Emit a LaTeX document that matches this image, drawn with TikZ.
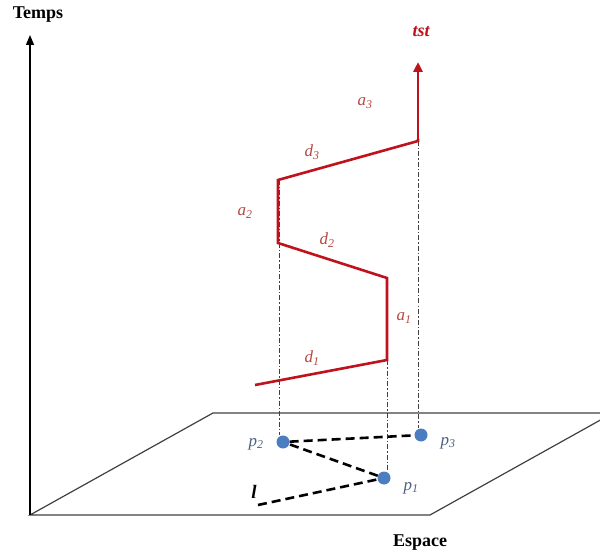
\documentclass[tikz,border=0pt]{standalone}
\usepackage{fontspec}
\setmainfont{Liberation Serif}
\usetikzlibrary{arrows.meta}
\definecolor{tred}{HTML}{C0121C}
\definecolor{labred}{HTML}{B5473F}
\definecolor{dotblue}{HTML}{4A7EC0}
\definecolor{plabgray}{HTML}{4D5F80}
\tikzset{
  axis/.style={draw=black, line width=1.2pt, -{Triangle[length=10pt,width=8pt]}},
  plane/.style={draw=black!75, line width=1.2pt},
  traj/.style={draw=tred, line width=2.6pt, line join=miter},
  trajarrow/.style={traj, -{Triangle[length=10pt,width=9pt]}},
  proj/.style={draw=black!75, line width=0.9pt, dash pattern=on 5pt off 2pt on 1.5pt off 2pt},
  link/.style={draw=black, line width=2.6pt, dash pattern=on 9pt off 5pt},
  pdot/.style={circle, fill=dotblue, inner sep=0pt, minimum size=13pt},
  lab/.style={text=labred, font=\itshape\fontsize{17}{17}\selectfont, inner sep=1pt},
  plab/.style={text=plabgray, font=\itshape\fontsize{17}{17}\selectfont, inner sep=1pt},
  title/.style={font=\bfseries\fontsize{18}{18}\selectfont, inner sep=1pt}
}
\begin{document}
\begin{tikzpicture}[x=1pt,y=-1pt]
\useasboundingbox (0,0) rectangle (600,556);
\clip (0,0) rectangle (600,556);
% plane
\coordinate (o) at (30,515);
\draw[plane] (o) -- (430,515) -- (613,413) -- (213,413) -- cycle;
% time axis
\coordinate (ttop) at (30,35);
\draw[axis] (o) -- (ttop);
\node[title] (temps) at (38,15) {Temps};
\node[title] (espace) at (420,543) {Espace};
% points on plane
\node[pdot] (p2) at (283,442) {};
\node[pdot] (p3) at (421,435) {};
\node[pdot] (p1) at (384,478) {};
\coordinate (l) at (258,505);
\node[plab] (p2l) at (256,444) {p\textsubscript{2}};
\node[plab] (p3l) at (448,443) {p\textsubscript{3}};
\node[plab] (p1l) at (411,488) {p\textsubscript{1}};
\node[font=\bfseries\itshape\fontsize{19}{19}\selectfont, inner sep=1pt] (ll) at (254,492) {l};
% trajectory vertices
\coordinate (r0) at (255,385);
\coordinate (r1) at (387,360);
\coordinate (r2) at (387,278);
\coordinate (r3) at (278,243);
\coordinate (r4) at (278,180);
\coordinate (r5) at (418,141);
\coordinate (r6) at (418,62);
% projections
\draw[proj] ([xshift=1pt]r4) -- ([xshift=1pt]r4 |- p2.north);
\draw[proj] (r1) -- (r1 |- p1.north);
\draw[proj] (r5) -- (r5 |- p3.north);
% links on plane
\draw[link] (l) -- (p1) -- (p2) -- (p3);
% trajectory
\draw[traj] (r0) -- (r1) -- (r2) -- (r3) -- (r4) -- (r5) -- ([yshift=2pt]r5);
\draw[trajarrow] (r5) -- (r6);
\node[font=\bfseries\itshape\fontsize{18}{18}\selectfont, text=tred, inner sep=1pt] (tst) at (421,32) {tst};
% labels
\node[lab] (d1) at (312,358) {d\textsubscript{1}};
\node[lab] (a1) at (404,318) {a\textsubscript{1}};
\node[lab] (d2) at (327,240) {d\textsubscript{2}};
\node[lab] (a2) at (245,213) {a\textsubscript{2}};
\node[lab] (d3) at (312,152) {d\textsubscript{3}};
\node[lab] (a3) at (365,103) {a\textsubscript{3}};
\end{tikzpicture}
\end{document}
